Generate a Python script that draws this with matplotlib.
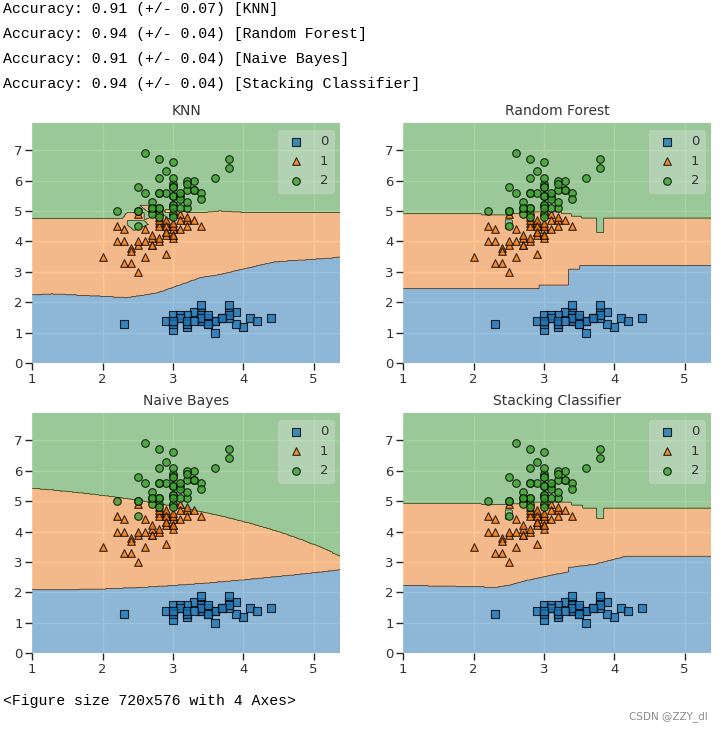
import numpy as np
import matplotlib
matplotlib.use("Agg")
import matplotlib.pyplot as plt

# ---------------- data (iris: sepal width, petal length) ----------------
sepal_width = [
    3.5, 3.0, 3.2, 3.1, 3.6, 3.9, 3.4, 3.4, 2.9, 3.1, 3.7, 3.4, 3.0, 3.0, 4.0, 4.4, 3.9, 3.5, 3.8, 3.8,
    3.4, 3.7, 3.6, 3.3, 3.4, 3.0, 3.4, 3.5, 3.4, 3.2, 3.1, 3.4, 4.1, 4.2, 3.1, 3.2, 3.5, 3.6, 3.0, 3.4,
    3.5, 2.3, 3.2, 3.5, 3.8, 3.0, 3.8, 3.2, 3.7, 3.3,
    3.2, 3.2, 3.1, 2.3, 2.8, 2.8, 3.3, 2.4, 2.9, 2.7, 2.0, 3.0, 2.2, 2.9, 2.9, 3.1, 3.0, 2.7, 2.2, 2.5,
    3.2, 2.8, 2.5, 2.8, 2.9, 3.0, 2.8, 3.0, 2.9, 2.6, 2.4, 2.4, 2.7, 2.7, 3.0, 3.4, 3.1, 2.3, 3.0, 2.5,
    2.6, 3.0, 2.6, 2.3, 2.7, 3.0, 2.9, 2.9, 2.5, 2.8,
    3.3, 2.7, 3.0, 2.9, 3.0, 3.0, 2.5, 2.9, 2.5, 3.6, 3.2, 2.7, 3.0, 2.5, 2.8, 3.2, 3.0, 3.8, 2.6, 2.2,
    3.2, 2.8, 2.8, 2.7, 3.3, 3.2, 2.8, 3.0, 2.8, 3.0, 2.8, 3.8, 2.8, 2.8, 2.6, 3.0, 3.4, 3.1, 3.0, 3.1,
    3.1, 3.1, 2.7, 3.2, 3.3, 3.0, 2.5, 3.0, 3.4, 3.0]
petal_length = [
    1.4, 1.4, 1.3, 1.5, 1.4, 1.7, 1.4, 1.5, 1.4, 1.5, 1.5, 1.6, 1.4, 1.1, 1.2, 1.5, 1.3, 1.4, 1.7, 1.5,
    1.7, 1.5, 1.0, 1.7, 1.9, 1.6, 1.6, 1.5, 1.4, 1.6, 1.6, 1.5, 1.5, 1.4, 1.5, 1.2, 1.3, 1.4, 1.3, 1.5,
    1.3, 1.3, 1.3, 1.6, 1.9, 1.4, 1.6, 1.4, 1.5, 1.4,
    4.7, 4.5, 4.9, 4.0, 4.6, 4.5, 4.7, 3.3, 4.6, 3.9, 3.5, 4.2, 4.0, 4.7, 3.6, 4.4, 4.5, 4.1, 4.5, 3.9,
    4.8, 4.0, 4.9, 4.7, 4.3, 4.4, 4.8, 5.0, 4.5, 3.5, 3.8, 3.7, 3.9, 5.1, 4.5, 4.5, 4.7, 4.4, 4.1, 4.0,
    4.4, 4.6, 4.0, 3.3, 4.2, 4.2, 4.2, 4.3, 3.0, 4.1,
    6.0, 5.1, 5.9, 5.6, 5.8, 6.6, 4.5, 6.3, 5.8, 6.1, 5.1, 5.3, 5.5, 5.0, 5.1, 5.3, 5.5, 6.7, 6.9, 5.0,
    5.7, 4.9, 6.7, 4.9, 5.7, 6.0, 4.8, 4.9, 5.6, 5.8, 6.1, 6.4, 5.6, 5.1, 5.6, 6.1, 5.6, 5.5, 4.8, 5.4,
    5.6, 5.1, 5.1, 5.9, 5.7, 5.2, 5.0, 5.2, 5.4, 5.1]
species = [0] * 50 + [1] * 50 + [2] * 50
class_names = ["0", "1", "2"]

titles = ["KNN", "Random Forest", "Naive Bayes", "Stacking Classifier"]
acc_means = [0.91, 0.94, 0.91, 0.94]
acc_stds = [0.07, 0.04, 0.04, 0.04]

# decision boundaries (Random Forest / Stacking)
rf_low_x = [1.0, 2.93, 2.93, 3.35, 3.35, 3.52, 3.52, 5.4]
rf_low_y = [2.46, 2.46, 2.58, 2.58, 3.10, 3.10, 3.21, 3.21]
rf_up_x = [1.0, 2.11, 2.11, 2.47, 2.47, 2.56, 2.56, 2.65, 2.65, 3.25, 3.25, 3.40, 3.40, 3.54, 3.54,
           3.75, 3.75, 3.86, 3.86, 5.4]
rf_up_y = [4.92, 4.92, 4.88, 4.88, 5.02, 5.02, 4.91, 4.91, 4.97, 4.97, 4.91, 4.91, 4.84, 4.84, 4.78,
           4.78, 4.30, 4.30, 4.78, 4.78]
st_low_x = [1.0, 1.52, 2.0, 2.31, 2.52, 2.76, 3.05, 3.35, 3.35, 3.71, 4.17, 5.4]
st_low_y = [2.24, 2.21, 2.19, 2.17, 2.24, 2.40, 2.54, 2.68, 2.82, 2.92, 3.19, 3.19]
st_up_x = [1.0, 2.11, 2.11, 2.47, 2.47, 2.56, 2.56, 2.65, 2.65, 3.40, 3.40, 3.55, 3.55, 3.76, 3.76,
           3.86, 3.86, 5.4]
st_up_y = [4.93, 4.93, 4.89, 4.89, 5.02, 5.02, 4.92, 4.92, 4.97, 4.97, 4.87, 4.87, 4.77, 4.77, 4.44,
           4.44, 4.77, 4.77]
island_x = [2.45, 2.56]
island_y = [4.42, 4.70]

# ---------------- classifiers on the mlxtend grid ----------------
X = np.column_stack([sepal_width, petal_length])
y = np.array(species)
x_min, x_max = X[:, 0].min() - 1, X[:, 0].max() + 1
y_min, y_max = X[:, 1].min() - 1, X[:, 1].max() + 1
res = 0.02
xx, yy = np.meshgrid(np.arange(x_min, x_max, res), np.arange(y_min, y_max, res))


def knn1(gx, gy):
    Z = np.empty(gx.shape, dtype=int)
    for i in range(gx.shape[0]):
        d = (gx[i][:, None] - X[None, :, 0]) ** 2 + (gy[i][:, None] - X[None, :, 1]) ** 2
        Z[i] = y[np.argmin(d, axis=1)]
    return Z


def gnb(gx, gy):
    eps = 1e-9 * X.var(axis=0).max()
    jll = []
    for c in range(3):
        Xc = X[y == c]
        mu = Xc.mean(axis=0)
        var = Xc.var(axis=0) + eps
        ll = (np.log(1 / 3) - 0.5 * np.sum(np.log(2 * np.pi * var))
              - 0.5 * ((gx - mu[0]) ** 2 / var[0] + (gy - mu[1]) ** 2 / var[1]))
        jll.append(ll)
    return np.argmax(np.stack(jll), axis=0)


def from_bounds(gx, gy, lx, ly, ux, uy):
    low = np.interp(gx, lx, ly)
    up = np.interp(gx, ux, uy)
    Z = np.ones(gx.shape, dtype=int)
    Z[gy < low] = 0
    Z[gy >= up] = 2
    isl = ((gx >= island_x[0]) & (gx <= island_x[1]) & (gy >= island_y[0]) & (gy <= island_y[1]))
    Z[isl] = 2
    return Z


Zs = [knn1(xx, yy),
      from_bounds(xx, yy, rf_low_x, rf_low_y, rf_up_x, rf_up_y),
      gnb(xx, yy),
      from_bounds(xx, yy, st_low_x, st_low_y, st_up_x, st_up_y)]

# ---------------- figure ----------------
colors = ["#1f77b4", "#ff7f0e", "#3ca02c"]
markers = ["s", "^", "o"]
W, H = 724, 730
fig = plt.figure(figsize=(W / 100, H / 100), dpi=100)
fig.patch.set_facecolor("white")

# pixel positions of axes (left, top)
ax_px = [(32.3, 123.3), (403.3, 123.3), (32.3, 413.4), (403.3, 413.4)]
aw, ah = 308.0, 240.0

for k in range(4):
    lpx, tpx = ax_px[k]
    ax = fig.add_axes([lpx / W, (H - tpx - ah) / H, aw / W, ah / H])
    ax.set_facecolor("#EAEAF2")
    ax.set_axisbelow(True)
    ax.grid(True, color="white", linewidth=1.0)
    for s in ax.spines.values():
        s.set_visible(False)
    Z = Zs[k]
    ax.contourf(xx, yy, Z, levels=[-0.5, 0.5, 1.5, 2.5], colors=colors, alpha=0.45)
    ax.contour(xx, yy, Z, levels=[0.5, 1.5], colors="k", linewidths=0.5, alpha=0.7)
    for c in range(3):
        m = y == c
        ax.scatter(X[m, 0], X[m, 1], c=colors[c], marker=markers[c], s=30,
                   edgecolor="black", linewidth=0.8, alpha=0.8, label=class_names[c], zorder=3)
    ax.set_xlim(xx.min(), xx.max())
    ax.set_ylim(yy.min(), yy.max())
    ax.set_xticks([1, 2, 3, 4, 5])
    ax.set_yticks([0, 1, 2, 3, 4, 5, 6, 7])
    ax.tick_params(axis="both", direction="out", length=5, width=1.0, color=".15",
                   labelcolor=".2", labelsize=9.5, pad=2)
    ax.set_title(titles[k], fontsize=10, color=".2")
    leg = ax.legend(loc="upper right", framealpha=0.3, scatterpoints=1, fontsize=9.5,
                    facecolor="#EAEAF2", edgecolor="0.85", handletextpad=0.8)
    for t in leg.get_texts():
        t.set_color(".2")

# notebook output text
mono = ["Liberation Mono", "DejaVu Sans Mono"]
for i in range(4):
    line = "Accuracy: %0.2f (+/- %0.2f) [%s]" % (acc_means[i], acc_stds[i], titles[i])
    fig.text(3 / W, 1 - (13 + 25 * i) / H, line, family=mono, fontsize=10.7,
             va="baseline", ha="left", color="black")
fig.text(3 / W, 1 - 705 / H, "<Figure size 720x576 with 4 Axes>", family=mono, fontsize=10.7,
         va="baseline", ha="left", color="black")
fig.text(708 / W, 1 - 719 / H, "CSDN @ZZY_dl", fontsize=7.5, color="#8c8c8c",
         va="baseline", ha="right")

fig.savefig("out.png", dpi=100, facecolor="white")
